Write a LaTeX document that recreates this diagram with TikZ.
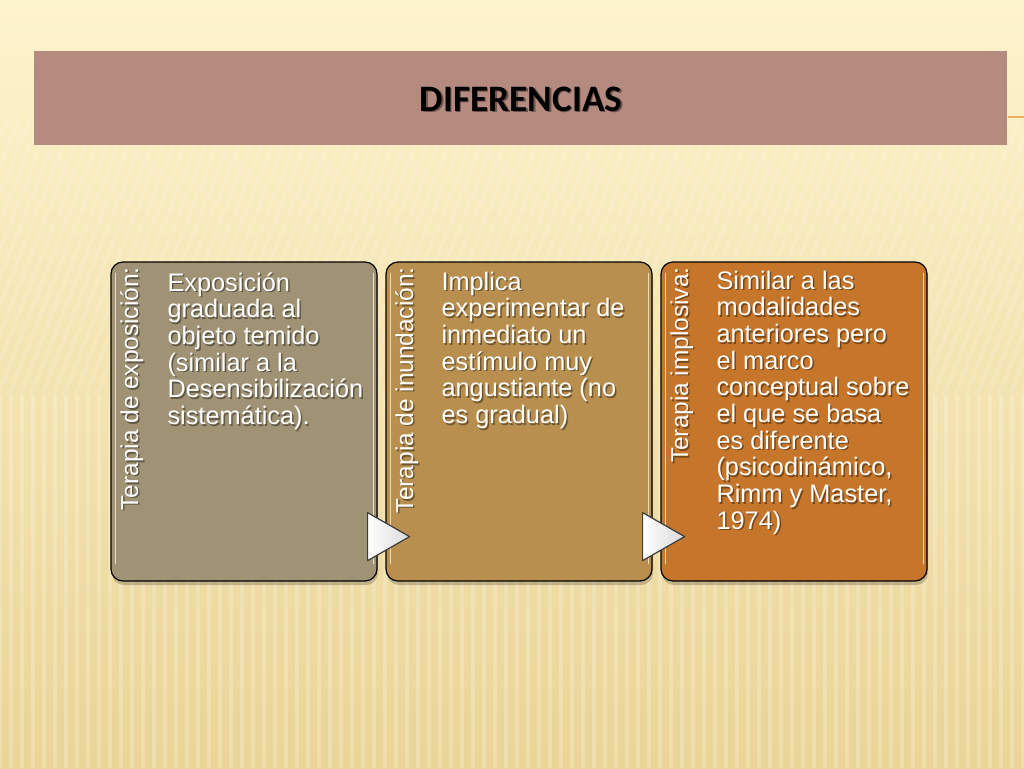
\documentclass[tikz,border=0pt]{standalone}
\usepackage{fontspec}
\setmainfont{Liberation Sans}
\newfontfamily\titlefont{Carlito}
\usetikzlibrary{calc}

\definecolor{bgtop}{RGB}{253,243,205}
\definecolor{bgbot}{RGB}{234,212,150}
\definecolor{bandcol}{RGB}{181,139,128}
\definecolor{expocol}{RGB}{160,147,117}
\definecolor{inuncol}{RGB}{184,143,78}
\definecolor{implocol}{RGB}{197,118,43}

\tikzset{every picture/.style={line width=0.75pt}}
\tikzset{
  stripe/.style={color=white, draw opacity=0.22, line width=2.5pt},
  tbox/.style={draw=black, line width=0.9pt, rounded corners=9pt, minimum width=199.5pt, minimum height=239.25pt, inner sep=0pt},
  boxshadow/.style={fill=black, fill opacity=0.2, rounded corners=9pt, minimum width=199.5pt, minimum height=239.25pt, inner sep=0pt},
  hilite/.style={color={rgb, 255:red, 246; green, 234; blue, 200 }, draw opacity=0.85, line width=1.2pt, line cap=round},
  bodytxt/.style={anchor=north west, inner sep=0.75pt, align=left, text=white, font=\fontsize{19}{20}\selectfont},
  sidelbl/.style={rotate=90, anchor=base east, inner sep=0pt, text=white, font=\fontsize{18.3}{20}\selectfont},
  titletxt/.style={inner sep=0pt, text=black, font=\titlefont\bfseries\fontsize{28}{34}\selectfont},
  tri/.style={draw={rgb, 255:red, 60; green, 60; blue, 60 }, line width=0.9pt, line join=round, left color=white, right color=gray!30}
}

% text with a soft drop shadow: name, position, style, text
\newcommand{\shnode}[4]{%
  \node[#3, text=black, text opacity=0.4] (#1sh) at ($#2+(1.5,1.5)$) {#4};
  \node[#3] (#1) at #2 {#4};}

\begin{document}
\begin{tikzpicture}[x=0.75pt,y=0.75pt,yscale=-1,xscale=1]
\useasboundingbox (0,0) rectangle (1024,768);

%Background
\shade [top color=bgtop, bottom color=bgbot] (0,0) rectangle (1024,768);
\begin{scope}
\clip (0,115) rectangle (1024,395);
\foreach \i in {-200,-189,...,1030} \draw[stripe, draw opacity=0.14] (\i,395) -- (\i+110,115);
\end{scope}
\foreach \i in {0,11,...,1030} \draw[stripe] (\i,395) -- (\i,768);

%Shape: Title band
\node[fill=bandcol, minimum width=729.75pt, minimum height=70.5pt, inner sep=0pt] (band) at (520.5,98) {};
%Straight Lines
\draw[color={rgb, 255:red, 232; green, 178; blue, 95 }, line width=1.5pt] ($(band.east)+(0,19)$) -- ++(17,0);
% Text Node
\shnode{title}{(521,99)}{titletxt}{DIFERENCIAS}

%Shape: Rounded Boxes
\foreach \n/\cx/\c in {expo/244/expocol, inun/519/inuncol, implo/794/implocol} {
  \node[boxshadow] (\n sh) at (\cx+1,425.5) {};
  \node[tbox, fill=\c] (\n) at (\cx,421.5) {};
  \draw[hilite] ($(\n.north west)+(5,12)$) -- ($(\n.south west)+(5,-18)$);
  \draw[hilite] ($(\n.north east)+(-4,12)$) -- ($(\n.south east)+(-4,-18)$);
}

%Shape: Triangles
\draw[tri] ($(expo.south east)+(-10,-69)$) -- ++(42,24) -- ++(-42,24) -- cycle;
\draw[tri] ($(inun.south east)+(-10,-69)$) -- ++(42,24) -- ++(-42,24) -- cycle;

% Text Node
\shnode{expolbl}{(138,267)}{sidelbl}{Terapia de exposición:}
% Text Node
\shnode{inunlbl}{(413,267)}{sidelbl}{Terapia de inundación:}
% Text Node
\shnode{implolbl}{(688,267)}{sidelbl}{Terapia implosiva:}
% Text Node
\shnode{expotxt}{(166,271)}{bodytxt}{\strut Exposición\\graduada al\\objeto temido\\(similar a la\\Desensibilización\\sistemática).}
% Text Node
\shnode{inuntxt}{(440,270)}{bodytxt}{\strut Implica\\experimentar de\\inmediato un\\estímulo muy\\angustiante (no\\es gradual)}
% Text Node
\shnode{implotxt}{(715,269)}{bodytxt}{\strut Similar a las\\modalidades\\anteriores pero\\el marco\\conceptual sobre\\el que se basa\\es diferente\\(psicodinámico,\\Rimm y Master,\\1974)}

\end{tikzpicture}
\end{document}
